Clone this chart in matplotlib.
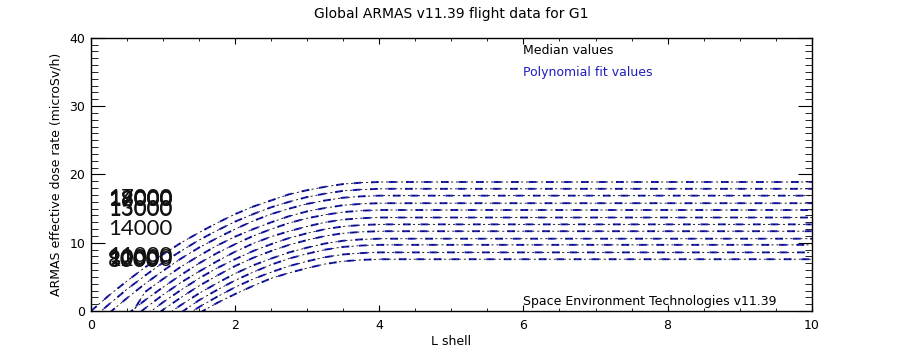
import numpy as np
import matplotlib
matplotlib.use("Agg")
import matplotlib.pyplot as plt
from matplotlib.ticker import MultipleLocator

nan = np.nan

# L shell grid shared by every altitude curve
l_shell = [0.0, 0.25, 0.5, 0.75, 1.0, 1.25, 1.5, 1.75, 2.0, 2.25, 2.5,
           2.75, 3.0, 3.25, 3.5, 3.75, 4.0, 10.0]

# altitudes (m) and their dose rate profiles (microSv/h), highest first
altitudes = [19000, 18000, 17000, 16000, 15000, 14000,
             13000, 12000, 11000, 10000, 9000, 8000]

rate_19000 = [0.0, 2.3, 4.4, 6.4, 8.3, 10.0, 11.5, 12.9, 14.2, 15.3, 16.2, 17.1, 17.7, 18.2, 18.6, 18.8, 18.9, 18.9]
rate_18000 = [-1.3, 1.0, 3.2, 5.2, 7.1, 8.8, 10.4, 11.8, 13.1, 14.2, 15.2, 16.0, 16.7, 17.2, 17.6, 17.8, 17.9, 17.9]
rate_17000 = [nan, -0.3, 1.9, 4.0, 5.9, 7.7, 9.3, 10.7, 12.0, 13.2, 14.2, 15.0, 15.7, 16.2, 16.6, 16.8, 16.9, 16.9]
rate_16000 = [nan, nan, -1.5, 2.8, 4.7, 6.5, 8.1, 9.6, 10.9, 12.0, 13.0, 13.9, 14.6, 15.1, 15.5, 15.7, 15.8, 15.8]
rate_15000 = [nan, nan, -0.5, 1.6, 3.5, 5.3, 7.0, 8.5, 9.8, 11.0, 12.0, 12.9, 13.6, 14.1, 14.5, 14.7, 14.8, 14.8]
rate_14000 = [nan, nan, -1.7, 0.4, 2.4, 4.2, 5.8, 7.3, 8.7, 9.9, 10.9, 11.7, 12.4, 13.0, 13.4, 13.6, 13.7, 13.7]
rate_13000 = [nan, nan, nan, -0.7, 1.3, 3.1, 4.8, 6.3, 7.6, 8.8, 9.8, 10.7, 11.4, 12.0, 12.4, 12.6, 12.7, 12.7]
rate_12000 = [nan, nan, nan, -1.9, 0.2, 2.0, 3.7, 5.2, 6.6, 7.8, 8.8, 9.7, 10.4, 11.0, 11.4, 11.6, 11.7, 11.7]
rate_11000 = [nan, nan, nan, nan, -0.9, 0.9, 2.6, 4.1, 5.5, 6.7, 7.7, 8.6, 9.3, 9.9, 10.3, 10.5, 10.6, 10.6]
rate_10000 = [nan, nan, nan, nan, nan, -0.2, 1.6, 3.1, 4.5, 5.7, 6.8, 7.7, 8.4, 9.0, 9.4, 9.6, 9.7, 9.7]
rate_9000 = [nan, nan, nan, nan, nan, -1.1, 0.6, 2.1, 3.5, 4.7, 5.7, 6.6, 7.3, 7.9, 8.3, 8.5, 8.6, 8.6]
rate_8000 = [nan, nan, nan, nan, nan, nan, -0.3, 1.2, 2.5, 3.7, 4.8, 5.6, 6.3, 6.9, 7.3, 7.5, 7.6, 7.6]

rates = [rate_19000, rate_18000, rate_17000, rate_16000, rate_15000, rate_14000,
         rate_13000, rate_12000, rate_11000, rate_10000, rate_9000, rate_8000]

# where each altitude label sits on the dose axis
label_y = [16.4, 16.3, 16.5, 16.2, 15.0, 12.0, 14.8, 7.5, 8.0, 7.8, 7.6, 7.3]

fit_blue = "#1e1ec0"

fig = plt.figure(figsize=(9, 3.5), dpi=100)
ax = fig.add_axes([0.101, 0.111, 0.801, 0.781])

for r in rates:
    ax.plot(l_shell, r, color=fit_blue, lw=1.4, dashes=(4, 5))
    ax.plot(l_shell, r, color="black", lw=0.6, dashes=(2.5, 3.5))

for alt, y in zip(altitudes, label_y):
    ax.text(0.24, y, str(alt), fontsize=16, family="Lato",
            color="#111111", va="center", ha="left")

ax.set_xlim(0, 10)
ax.set_ylim(0, 40)
ax.xaxis.set_major_locator(MultipleLocator(2))
ax.xaxis.set_minor_locator(MultipleLocator(0.5))
ax.yaxis.set_major_locator(MultipleLocator(10))
ax.yaxis.set_minor_locator(MultipleLocator(1))
ax.tick_params(axis="x", which="major", direction="in", length=4, top=True, labelsize=9, pad=6)
ax.tick_params(axis="x", which="minor", direction="in", length=2, top=True)
ax.tick_params(axis="y", which="major", direction="in", length=10.4, right=True, labelsize=9, pad=4)
ax.tick_params(axis="y", which="minor", direction="in", length=5.2, right=True)
for s in ax.spines.values():
    s.set_linewidth(1)

ax.set_title("Global ARMAS v11.39 flight data for G1", fontsize=10, pad=14)
ax.set_xlabel("L shell", fontsize=9, labelpad=2)
ax.set_ylabel("ARMAS effective dose rate (microSv/h)", fontsize=9, labelpad=5)

ax.text(6.0, 38.2, "Median values", fontsize=9, color="black", va="center")
ax.text(6.0, 34.9, "Polynomial fit values", fontsize=9, color=fit_blue, va="center")
ax.text(6.0, 1.4, "Space Environment Technologies v11.39", fontsize=9, color="black", va="center")

fig.savefig("out.png", dpi=100)
